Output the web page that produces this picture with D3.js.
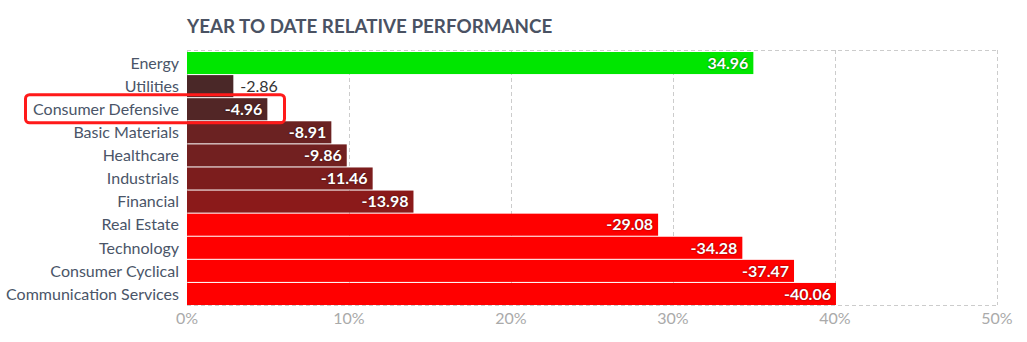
<!DOCTYPE html>
<html><head><meta charset="utf-8">
<script src="https://cdn.jsdelivr.net/npm/d3@7"></script>
<style>
body{margin:0;background:#fff;}
svg{display:block;font-family:Lato,"Open Sans",sans-serif;}
</style></head>
<body><svg id="c" width="1027" height="342"></svg>
<script>
const categories = ["Energy","Utilities","Consumer Defensive","Basic Materials","Healthcare","Industrials","Financial","Real Estate","Technology","Consumer Cyclical","Communication Services"];
const values = [34.96,-2.86,-4.96,-8.91,-9.86,-11.46,-13.98,-29.08,-34.28,-37.47,-40.06];
const barColors = ["#00e600","#4a2828","#522626","#6b2222","#722020","#7c1d1d","#8b1a1a","#ff0000","#ff0000","#ff0000","#ff0000"];
const tickValues = [0,10,20,30,40,50];
const title = "YEAR TO DATE RELATIVE PERFORMANCE";
const highlighted = "Consumer Defensive";

const svg = d3.select("#c");
const L = 187, R = 997, T = 50, B = 305;
const x = d3.scaleLinear().domain([0,50]).range([L,R]);
const y = d3.scaleBand().domain(categories).range([T+2,B]).paddingInner(0.045).paddingOuter(0);

svg.append("text").attr("x",L).attr("y",33).attr("font-size",18.8).attr("font-weight",700)
  .attr("fill","#4a5263").text(title);

// grid
const g = svg.append("g");
tickValues.forEach(t=>{
  g.append("line").attr("x1",x(t)+0.5).attr("x2",x(t)+0.5).attr("y1",T).attr("y2",B)
   .attr("stroke","#cccccc").attr("stroke-dasharray","4,3");
});
[T,B].forEach(yy=>g.append("line").attr("x1",L).attr("x2",R).attr("y1",yy+0.5).attr("y2",yy+0.5)
   .attr("stroke","#cccccc").attr("stroke-dasharray","4,3"));

const data = categories.map((c,i)=>({c,v:values[i],col:barColors[i]}));

svg.append("g").selectAll("rect").data(data).join("rect")
  .attr("x",x(0)).attr("y",d=>y(d.c)).attr("width",d=>x(Math.abs(d.v))-x(0)).attr("height",y.bandwidth())
  .attr("fill",d=>d.col);

// category labels
svg.append("g").selectAll("text").data(data).join("text")
  .attr("x",179).attr("y",d=>y(d.c)+y.bandwidth()/2).attr("dy","0.36em")
  .attr("text-anchor","end").attr("font-size",16).attr("fill","#4a5568").text(d=>d.c);

const small = d => (x(Math.abs(d.v))-x(0)) < 55;
// value labels
svg.append("g").selectAll("text").data(data).join("text")
  .attr("x",d=>small(d)? x(Math.abs(d.v))+7 : x(Math.abs(d.v))-5)
  .attr("text-anchor",d=>small(d)?"start":"end")
  .attr("y",d=>y(d.c)+y.bandwidth()/2).attr("dy","0.36em")
  .attr("font-size",16)
  .attr("font-weight",d=>small(d)?400:700)
  .attr("fill",d=>small(d)?"#333":"#fff")
  .style("text-shadow",d=>small(d)?"none":"0 0 2px rgba(0,0,0,0.6)")
  .text(d=>d.v.toFixed(2));

// axis ticks
svg.append("g").selectAll("text").data(tickValues).join("text")
  .attr("x",d=>x(d)).attr("y",324).attr("text-anchor","middle").attr("font-size",16)
  .attr("fill","#aaaaaa").text(d=>d+"%");

// highlight box
svg.append("rect").attr("x",25.5).attr("y",y(highlighted)-3.5).attr("width",259).attr("height",y.bandwidth()+6)
  .attr("rx",4).attr("fill","none").attr("stroke","#ff1a1a").attr("stroke-width",3);
</script></body></html>
